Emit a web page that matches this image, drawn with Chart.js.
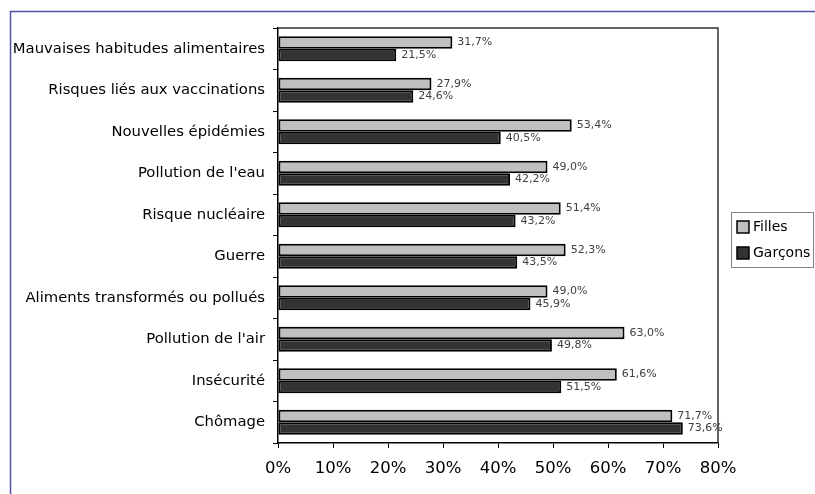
<!DOCTYPE html>
<html>
<head>
<meta charset="utf-8">
<script src="https://cdn.jsdelivr.net/npm/chart.js@4"></script>
<style>
  body { margin: 0; background: #fff; }
  #wrap { width: 815px; height: 494px; }
</style>
</head>
<body>
<div id="wrap"><canvas id="barChart"></canvas></div>
<script>
var categories = ["Mauvaises habitudes alimentaires", "Risques liés aux vaccinations", "Nouvelles épidémies",
    "Pollution de l'eau", "Risque nucléaire", "Guerre", "Aliments transformés ou pollués",
    "Pollution de l'air", "Insécurité", "Chômage"];
var filles = [31.7, 27.9, 53.4, 49.0, 51.4, 52.3, 49.0, 63.0, 61.6, 71.7];
var garcons = [21.5, 24.6, 40.5, 42.2, 43.2, 43.5, 45.9, 49.8, 51.5, 73.6];
var seriesNames = ["Filles", "Garçons"];
var seriesColors = ['#c0c0c0', '#333333'];

var font = "'DejaVu Sans', sans-serif";

// blue frame, plot border, value labels and boxed legend
var extras = {
    id: 'extras',
    beforeDraw: function (chart) {
        var ctx = chart.ctx;
        ctx.save();
        ctx.strokeStyle = '#5050a8';
        ctx.lineWidth = 1.5;
        ctx.beginPath();
        ctx.moveTo(10.5, 494);
        ctx.lineTo(10.5, 11.5);
        ctx.lineTo(815, 11.5);
        ctx.stroke();
        ctx.restore();
    },
    afterDatasetsDraw: function (chart) {
        var ctx = chart.ctx;
        ctx.save();
        ctx.font = '11px ' + font;
        ctx.fillStyle = '#404040';
        ctx.textAlign = 'left';
        ctx.textBaseline = 'middle';
        chart.data.datasets.forEach(function (ds, i) {
            chart.getDatasetMeta(i).data.forEach(function (bar, j) {
                var txt = ds.data[j].toFixed(1).replace('.', ',') + '%';
                ctx.fillText(txt, bar.x + 5, bar.y);
            });
        });
        ctx.restore();
    },
    afterDraw: function (chart) {
        var ctx = chart.ctx;
        var a = chart.chartArea;
        ctx.save();
        ctx.strokeStyle = '#333';
        ctx.lineWidth = 1.5;
        ctx.beginPath();
        ctx.moveTo(a.left, a.top);
        ctx.lineTo(a.right, a.top);
        ctx.lineTo(a.right, a.bottom);
        ctx.stroke();

        // legend
        ctx.lineWidth = 1;
        ctx.strokeStyle = '#808080';
        ctx.strokeRect(731.5, 212.5, 82, 55);
        ctx.font = '14px ' + font;
        ctx.textBaseline = 'middle';
        ctx.textAlign = 'left';
        seriesNames.forEach(function (name, i) {
            var y = 227 + i * 26;
            ctx.fillStyle = seriesColors[i];
            ctx.fillRect(737, y - 6, 12, 12);
            ctx.strokeStyle = '#000';
            ctx.lineWidth = 1.5;
            ctx.strokeRect(737, y - 6, 12, 12);
            ctx.fillStyle = '#000';
            ctx.fillText(name, 753, y);
        });
        ctx.restore();
    }
};

new Chart(document.getElementById('barChart'), {
    type: 'bar',
    data: {
        labels: categories,
        datasets: [{
            label: seriesNames[0],
            data: filles,
            backgroundColor: seriesColors[0],
            borderColor: '#000',
            borderWidth: 2,
            borderSkipped: false
        }, {
            label: seriesNames[1],
            data: garcons,
            backgroundColor: seriesColors[1],
            borderColor: '#000',
            borderWidth: 2,
            borderSkipped: false
        }]
    },
    options: {
        indexAxis: 'y',
        responsive: true,
        maintainAspectRatio: false,
        animation: false,
        layout: { padding: { top: 28, right: 97, left: 0, bottom: 0 } },
        datasets: { bar: { categoryPercentage: 0.6, barPercentage: 1 } },
        plugins: {
            legend: { display: false },
            tooltip: { enabled: false }
        },
        scales: {
            x: {
                min: 0,
                max: 80,
                ticks: {
                    stepSize: 10,
                    color: '#000',
                    padding: 11,
                    font: { family: font, size: 16.5 },
                    callback: function (v) { return v + '%'; }
                },
                grid: { drawOnChartArea: false, tickLength: 5, color: '#000' },
                border: { color: '#000', width: 1.5 },
                afterFit: function (s) { s.height = 51; }
            },
            y: {
                ticks: {
                    color: '#000',
                    padding: 8,
                    font: { family: font, size: 14.8 }
                },
                grid: { drawOnChartArea: false, tickLength: 5, color: '#000', offset: true },
                border: { color: '#000', width: 1.5 },
                afterFit: function (s) { s.width = 278; }
            }
        }
    },
    plugins: [extras]
});
</script>
</body>
</html>
